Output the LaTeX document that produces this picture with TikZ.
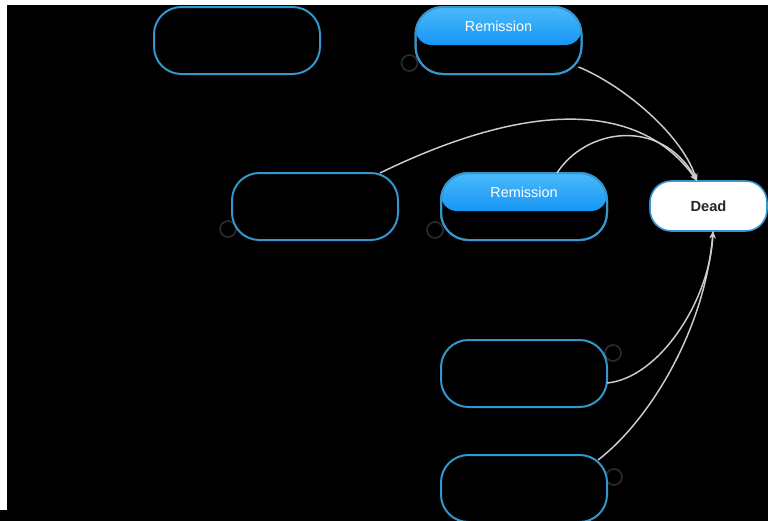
\documentclass[tikz,border=0pt]{standalone}
\usepackage{fontspec}
\setmainfont{Liberation Sans}
\usetikzlibrary{arrows.meta}
\definecolor{boxblue}{RGB}{52,150,205}
\definecolor{hdrtop}{RGB}{100,204,252}
\definecolor{hdrbot}{RGB}{22,150,245}
\definecolor{loopgray}{RGB}{42,42,42}
\definecolor{linkgray}{RGB}{205,205,205}
\pgfdeclarelayer{canvas}
\pgfdeclarelayer{loops}
\pgfsetlayers{canvas,loops,main}
\begin{document}
\begin{tikzpicture}[x=0.75pt,y=-0.75pt,
  statebox/.style={draw=boxblue, line width=1.5pt, fill=black, rounded corners=20.5pt,
    minimum width=124.5pt, minimum height=50.25pt, outer sep=0pt, inner sep=0pt},
  deadbox/.style={draw=boxblue, line width=1.2pt, fill=white, rounded corners=16pt,
    minimum width=87.75pt, minimum height=37.5pt, outer sep=0pt, inner sep=0pt,
    font=\fontsize{11pt}{13pt}\selectfont\bfseries, text=black!85},
  hdrlabel/.style={text=white, font=\fontsize{10.8pt}{13pt}\selectfont, inner sep=0pt},
  loopc/.style={draw=loopgray, line width=1.3pt},
  link/.style={draw=linkgray, line width=1.1pt, -{Stealth[length=5.5pt,width=4.5pt]}}]
\useasboundingbox (0,0) rectangle (768,521);
\begin{pgfonlayer}{canvas}
  \fill[white] (0,0) rectangle (768,521);
  \fill[black] (7,5) rectangle (768,521);
  \fill[black] (0,510) rectangle (7,521);
\end{pgfonlayer}

% state boxes
\node[statebox] (n1) at (237,40.5) {};
\node[statebox] (n2) at (498.5,40.5) {};
\node[statebox] (n3) at (315,206.5) {};
\node[statebox] (n4) at (524,206.5) {};
\node[statebox] (n5) at (524,373.5) {};
\node[statebox] (n6) at (524,488.5) {};
\node[deadbox] (dead) at (708.5,206) {Dead};

% headers of the remission states
\foreach \b in {n2,n4}{
  \begin{scope}
    \clip[rounded corners=20.5pt] (\b.north west) rectangle (\b.south east);
    \shade[top color=hdrtop, bottom color=hdrbot, rounded corners=12pt]
      ([yshift=14pt]\b.north west) rectangle ([yshift=-28.5pt]\b.north east);
  \end{scope}
  \draw[boxblue, line width=1.5pt, rounded corners=20.5pt] (\b.north west) rectangle (\b.south east);
}
\node[hdrlabel] (r1) at ([yshift=-14.25pt]n2.north) {Remission};
\node[hdrlabel] (r2) at ([yshift=-14.25pt]n4.north) {Remission};

% self loops
\begin{pgfonlayer}{loops}
  \draw[loopc] ([shift={(-6,-11)}]n2.south west) circle[radius=6pt];
  \draw[loopc] ([shift={(-4,-11)}]n3.south west) circle[radius=6pt];
  \draw[loopc] ([shift={(-6,-10)}]n4.south west) circle[radius=6pt];
  \draw[loopc] ([shift={(6,13)}]n5.north east) circle[radius=6pt];
  \draw[loopc] ([shift={(7,22)}]n6.north east) circle[radius=6pt];
\end{pgfonlayer}

% connectors to Dead
\coordinate (dtop) at ([xshift=-8.6pt]dead.north);
\coordinate (dbot) at ([xshift=3.4pt]dead.south);
\draw[link] ([shift={(-3,-7)}]n2.south east) .. controls +(40,16) and +(-17,-50) .. (dtop);
\draw[link] ([shift={(-18,0)}]n3.north east) .. controls +(150,-73) and +(-57,-80) .. (dtop);
\draw[link] ([shift={(33,0)}]n4.north) .. controls +(28,-44) and +(-37,-65) .. (dtop);
\draw[link] ([shift={(0,9.5)}]n5.east) .. controls +(53,-5) and +(-3,68) .. (dbot);
\draw[link] ([shift={(-9,5)}]n6.north east) .. controls +(52,-40) and +(-8,98) .. (dbot);
\end{tikzpicture}
\end{document}
